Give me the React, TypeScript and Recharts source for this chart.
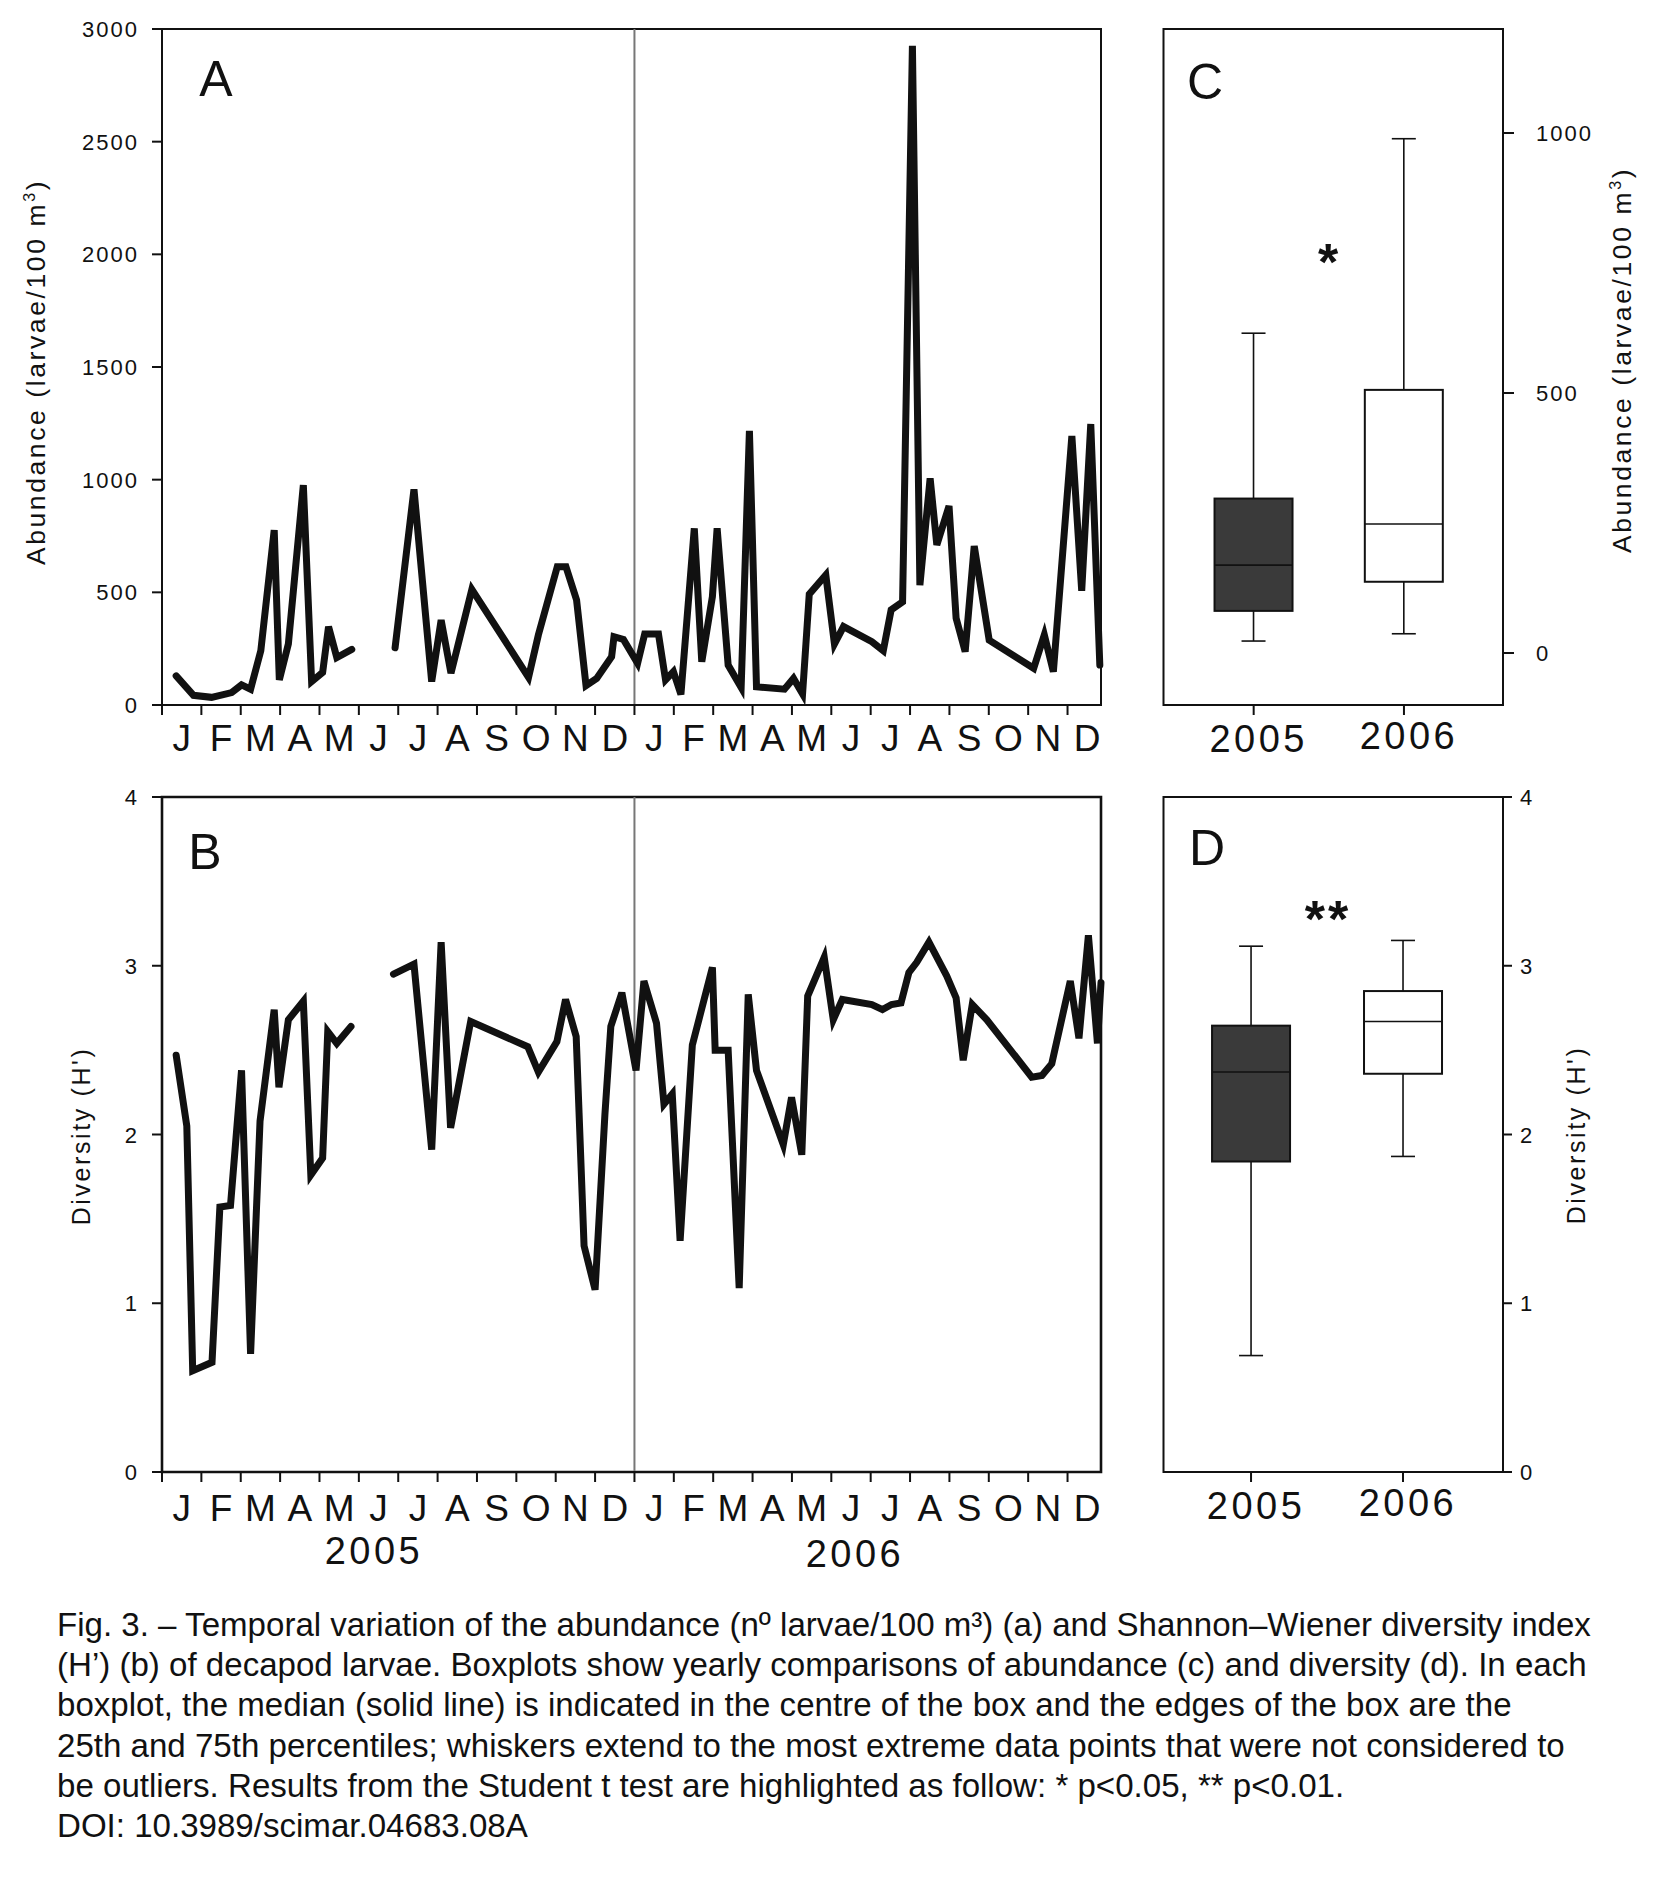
import React from "react";
import {
  LineChart,
  Line,
  BarChart,
  Bar,
  XAxis,
  YAxis,
  ReferenceLine,
  ReferenceArea,
} from "recharts";

// month letters for the two sampled years (Jan 2005 .. Dec 2006)
const MONTHS = ["J", "F", "M", "A", "M", "J", "J", "A", "S", "O", "N", "D"];
const MONTH_TICKS = [0, 1, 2, 3, 4, 5, 6, 7, 8, 9, 10, 11, 12, 13, 14, 15, 16, 17, 18, 19, 20, 21, 22, 23];
const X_MAX = 23.85;
const YEAR_START = 12;

// panel A: abundance (larvae/100 m3), x in months since 1 Jan 2005
const ABUND_MONTH = [
  0.36, 0.8, 1.26, 1.77, 2.02, 2.25, 2.51, 2.85, 2.98, 3.21, 3.59, 3.8, 4.08, 4.23, 4.44, 4.82, 5.4,
  5.92, 6.4, 6.85, 7.09, 7.34, 7.87, 9.31, 9.56, 10.04, 10.26, 10.53, 10.77, 11.04, 11.42, 11.48,
  11.72, 12.08, 12.26, 12.61, 12.79, 12.99, 13.18, 13.52, 13.71, 13.98, 14.1, 14.38, 14.71, 14.92,
  15.1, 15.81, 16.04, 16.27, 16.44, 16.86, 17.08, 17.31, 18.03, 18.32, 18.52, 18.81, 19.06, 19.25,
  19.51, 19.68, 19.99, 20.17, 20.4, 20.63, 21.01, 22.14, 22.41, 22.64, 23.11, 23.36, 23.59, 23.82,
];
const ABUND_VALUE = [
  129, 43, 34, 55, 89, 70, 241, 776, 111, 271, 976, 104, 145, 348, 211, 247, null,
  254, 957, 104, 377, 141, 513, 123, 311, 614, 614, 466, 86, 118, 214, 303,
  291, 185, 315, 315, 111, 148, 47, 784, 192, 481, 784, 177, 78, 1217,
  81, 70, 118, 49, 492, 577, 271, 348, 281, 241, 422, 458, 2925, 532,
  1006, 710, 883, 385, 237, 705, 288, 163, 311, 148, 1194, 507, 1247, 177,
];

// panel B: Shannon-Wiener diversity (H')
const DIV_MONTH = [
  0.36, 0.63, 0.78, 1.27, 1.47, 1.74, 2.02, 2.25, 2.49, 2.85, 2.97, 3.21, 3.59, 3.78, 4.08, 4.21,
  4.44, 4.8, 5.4, 5.88, 6.4, 6.85, 7.09, 7.33, 7.84, 9.29, 9.56, 10.03, 10.25, 10.52, 10.72, 11.0,
  11.25, 11.4, 11.68, 12.04, 12.24, 12.56, 12.75, 12.96, 13.16, 13.47, 13.98, 14.05, 14.38, 14.66,
  14.89, 15.1, 15.78, 15.99, 16.25, 16.4, 16.82, 17.05, 17.28, 18.03, 18.3, 18.53, 18.77, 18.97,
  19.17, 19.48, 19.93, 20.17, 20.35, 20.58, 20.95, 22.09, 22.35, 22.6, 23.07, 23.29, 23.53, 23.76,
  23.85,
];
const DIV_VALUE = [
  2.47, 2.05, 0.6, 0.65, 1.57, 1.58, 2.38, 0.7, 2.08, 2.74, 2.28, 2.68, 2.79, 1.76, 1.86, 2.61,
  2.54, 2.64, null, 2.95, 3.01, 1.91, 3.14, 2.04, 2.67, 2.52, 2.37, 2.55, 2.8, 2.58, 1.34, 1.08,
  2.12, 2.64, 2.84, 2.38, 2.91, 2.66, 2.18, 2.24, 1.37, 2.53, 2.99, 2.5, 2.5, 1.09,
  2.83, 2.38, 1.94, 2.22, 1.88, 2.82, 3.05, 2.68, 2.8, 2.77, 2.74, 2.77, 2.78, 2.96,
  3.02, 3.14, 2.94, 2.81, 2.44, 2.77, 2.68, 2.34, 2.35, 2.42, 2.91, 2.57, 3.18, 2.54,
  2.9,
];

// boxplots C and D
const BOX_YEARS = ["2005", "2006"];
const BOX_FILLS = ["#3a3a3a", "#ffffff"];
const ABUND_LOW = [23, 37];
const ABUND_Q1 = [81, 137];
const ABUND_MED = [169, 248];
const ABUND_Q3 = [297, 506];
const ABUND_HIGH = [615, 989];
const DIV_LOW = [0.69, 1.87];
const DIV_Q1 = [1.84, 2.36];
const DIV_MED = [2.37, 2.67];
const DIV_Q3 = [2.645, 2.85];
const DIV_HIGH = [3.116, 3.15];

const ABUND_TICKS = [0, 500, 1000, 1500, 2000, 2500, 3000];
const DIV_TICKS = [0, 1, 2, 3, 4];
const BOX_ABUND_TICKS = [0, 500, 1000];
const BOX_X_TICKS = [1, 2];

const CAPTION = [
  "Fig. 3. – Temporal variation of the abundance (nº larvae/100 m³) (a) and Shannon–Wiener diversity index",
  "(H’) (b) of decapod larvae. Boxplots show yearly comparisons of abundance (c) and diversity (d). In each",
  "boxplot, the median (solid line) is indicated in the centre of the box and the edges of the box are the",
  "25th and 75th percentiles; whiskers extend to the most extreme data points that were not considered to",
  "be outliers. Results from the Student t test are highlighted as follow: * p<0.05, ** p<0.01.",
  "DOI: 10.3989/scimar.04683.08A",
];

const FONT = "'Liberation Sans', Arial, Helvetica, sans-serif";
const INK = "#111";
const PLOT_W = 939;
const MONTH_PX = PLOT_W / X_MAX;
const CAP = 12;

const abundData = ABUND_MONTH.map((m, i) => ({ m, v: ABUND_VALUE[i] }));
const divData = DIV_MONTH.map((m, i) => ({ m, v: DIV_VALUE[i] }));

const abundBoxes = BOX_YEARS.map((year, i) => ({
  pos: i + 1,
  year,
  range: [ABUND_LOW[i], ABUND_HIGH[i]],
  lo: ABUND_LOW[i],
  q1: ABUND_Q1[i],
  med: ABUND_MED[i],
  q3: ABUND_Q3[i],
  hi: ABUND_HIGH[i],
  fill: BOX_FILLS[i],
}));
const divBoxes = BOX_YEARS.map((year, i) => ({
  pos: i + 1,
  year,
  range: [DIV_LOW[i], DIV_HIGH[i]],
  lo: DIV_LOW[i],
  q1: DIV_Q1[i],
  med: DIV_MED[i],
  q3: DIV_Q3[i],
  hi: DIV_HIGH[i],
  fill: BOX_FILLS[i],
}));

const makeMonthTick = (dy: number) => (props: any) => {
  const { x, y, payload } = props;
  return (
    <text x={x + MONTH_PX / 2} y={y + dy} textAnchor="middle" fontSize={37} fontFamily={FONT} fill={INK}>
      {MONTHS[payload.value % 12]}
    </text>
  );
};

const LeftTick = (props: any) => {
  const { x, y, payload } = props;
  return (
    <text x={x} y={y + 8} textAnchor="end" fontSize={22} letterSpacing={2} fontFamily={FONT} fill={INK}>
      {payload.value}
    </text>
  );
};

const RightTick = (props: any) => {
  const { x, y, payload } = props;
  return (
    <text x={x} y={y + 8} textAnchor="start" fontSize={22} letterSpacing={2} fontFamily={FONT} fill={INK}>
      {payload.value}
    </text>
  );
};

const YearTick = (props: any) => {
  const { x, y, payload } = props;
  const i = payload.value - 1;
  return (
    <text x={x + 5} y={y + 35 - i * 3} textAnchor="middle" fontSize={38} letterSpacing={3.5} fontFamily={FONT} fill={INK}>
      {BOX_YEARS[i]}
    </text>
  );
};

// whiskers, box and median drawn from the bar's own scaled range
const BoxShape = (props: any) => {
  const { x, y, width, height, payload } = props;
  const { lo, q1, med, q3, hi, fill } = payload;
  const top = height < 0 ? y + height : y;
  const unit = Math.abs(height) / (hi - lo);
  const py = (v: number) => top + (hi - v) * unit;
  const cx = x + width / 2;
  return (
    <g>
      <line x1={cx} x2={cx} y1={py(hi)} y2={py(lo)} stroke={INK} strokeWidth={1.6} />
      <line x1={cx - CAP} x2={cx + CAP} y1={py(hi)} y2={py(hi)} stroke={INK} strokeWidth={1.6} />
      <line x1={cx - CAP} x2={cx + CAP} y1={py(lo)} y2={py(lo)} stroke={INK} strokeWidth={1.6} />
      <rect x={x} y={py(q3)} width={width} height={py(q1) - py(q3)} fill={fill} stroke={INK} strokeWidth={2} />
      <line x1={x} x2={x + width} y1={py(med)} y2={py(med)} stroke={INK} strokeWidth={1.6} />
    </g>
  );
};

const axisStyle = { stroke: INK, strokeWidth: 2 };

function SeriesPanel({ data, yMax, ticks, top, frameWidth, monthDy }: any) {
  return (
    <div style={{ position: "absolute", left: 0, top }}>
      <LineChart width={1120} height={780} data={data} margin={{ top: 29, right: 19, bottom: top === 0 ? 15 : 16, left: 0 }}>
        <XAxis
          type="number"
          dataKey="m"
          domain={[0, X_MAX]}
          ticks={MONTH_TICKS}
          interval={0}
          height={60}
          tickSize={10}
          tick={makeMonthTick(monthDy)}
          axisLine={axisStyle}
          tickLine={axisStyle}
        />
        <YAxis
          type="number"
          domain={[0, yMax]}
          ticks={ticks}
          interval={0}
          width={162}
          tickSize={10}
          tickMargin={13}
          tick={LeftTick}
          axisLine={axisStyle}
          tickLine={axisStyle}
        />
        <ReferenceArea x1={0} x2={X_MAX} y1={0} y2={yMax} fill="none" stroke={INK} strokeWidth={frameWidth} />
        <ReferenceLine x={YEAR_START} stroke="#777" strokeWidth={2} />
        <Line
          type="linear"
          dataKey="v"
          stroke={INK}
          strokeWidth={7}
          strokeLinecap="round"
          dot={false}
          activeDot={false}
          connectNulls={false}
          isAnimationActive={false}
        />
      </LineChart>
    </div>
  );
}

function BoxPanel({ data, domain, xDomain, ticks, top, rightTickSize, rightTickMargin }: any) {
  return (
    <div style={{ position: "absolute", left: 1140, top }}>
      <BarChart width={514} height={780} data={data} margin={{ top: 29, right: 0, bottom: top === 0 ? 15 : 16, left: 23.5 }}>
        <XAxis
          dataKey="pos"
          type="number"
          domain={xDomain}
          ticks={BOX_X_TICKS}
          interval={0}
          height={60}
          tickSize={10}
          tick={YearTick}
          axisLine={axisStyle}
          tickLine={axisStyle}
        />
        <YAxis
          orientation="right"
          type="number"
          domain={domain}
          ticks={ticks}
          interval={0}
          width={151}
          tickSize={rightTickSize}
          tickMargin={rightTickMargin}
          tick={RightTick}
          axisLine={axisStyle}
          tickLine={axisStyle}
        />
        <ReferenceArea x1={xDomain[0]} x2={xDomain[1]} y1={domain[0]} y2={domain[1]} fill="none" stroke={INK} strokeWidth={2} />
        <Bar dataKey="range" barSize={78} shape={BoxShape} isAnimationActive={false} />
      </BarChart>
    </div>
  );
}

export default function App() {
  const textProps = { fontFamily: FONT, fill: INK };
  return (
    <div style={{ position: "absolute", left: 0, top: 0, width: 1654, height: 1890, background: "#fff" }}>
      <SeriesPanel data={abundData} yMax={3000} ticks={ABUND_TICKS} top={0} frameWidth={2} monthDy={34} />
      <SeriesPanel data={divData} yMax={4} ticks={DIV_TICKS} top={768} frameWidth={2.6} monthDy={37} />
      <BoxPanel
        data={abundBoxes}
        domain={[-100, 1200]}
        xDomain={[0.4, 2.659]}
        ticks={BOX_ABUND_TICKS}
        top={0}
        rightTickSize={11}
        rightTickMargin={22}
      />
      <BoxPanel
        data={divBoxes}
        domain={[0, 4]}
        xDomain={[0.424, 2.658]}
        ticks={DIV_TICKS}
        top={768}
        rightTickSize={9}
        rightTickMargin={8}
      />
      <svg width={1654} height={1890} style={{ position: "absolute", left: 0, top: 0, pointerEvents: "none" }}>
        <g {...textProps}>
          <text x={216} y={96} fontSize={50} textAnchor="middle">A</text>
          <text x={205} y={869} fontSize={50} textAnchor="middle">B</text>
          <text x={1205} y={99} fontSize={50} textAnchor="middle">C</text>
          <text x={1207} y={865} fontSize={50} textAnchor="middle">D</text>
          <text x={1328} y={280} fontSize={52} fontWeight="bold" textAnchor="middle">*</text>
          <text x={1328} y={937} fontSize={52} fontWeight="bold" textAnchor="middle" letterSpacing={3}>**</text>

          <text transform="translate(45,372) rotate(-90)" fontSize={26.5} letterSpacing={2.6} textAnchor="middle">
            Abundance (larvae/100 m<tspan fontSize={16} dy={-10}>3</tspan><tspan dy={10}>)</tspan>
          </text>
          <text transform="translate(90,1136) rotate(-90)" fontSize={25} letterSpacing={2.6} textAnchor="middle">
            Diversity (H')
          </text>
          <text transform="translate(1631,360) rotate(-90)" fontSize={26.5} letterSpacing={2.6} textAnchor="middle">
            Abundance (larvae/100 m<tspan fontSize={16} dy={-10}>3</tspan><tspan dy={10}>)</tspan>
          </text>
          <text transform="translate(1585,1135) rotate(-90)" fontSize={25} letterSpacing={2.6} textAnchor="middle">
            Diversity (H')
          </text>

          <text x={374} y={1564} fontSize={38} letterSpacing={3.5} textAnchor="middle">2005</text>
          <text x={855} y={1567} fontSize={38} letterSpacing={3.5} textAnchor="middle">2006</text>

          {CAPTION.map((line, i) => (
            <text key={i} x={57} y={1636 + i * 40.2} fontSize={33.1}>
              {line}
            </text>
          ))}
        </g>
      </svg>
    </div>
  );
}
